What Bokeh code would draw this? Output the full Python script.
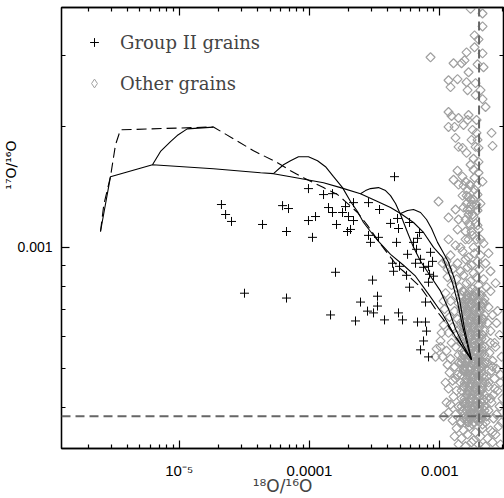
import math
from bokeh.plotting import figure
from bokeh.models import (FixedTicker, CustomJSTickFormatter, LogAxis, Span, Title,
                          Legend, LegendItem, Range1d)
from bokeh.embed import file_html
from bokeh.resources import INLINE

# ---------------- axis ranges / ticks ----------------
x_lo, x_hi = 1.25e-6, 3.08e-3
y_lo, y_hi = 3.16e-4, 3.95e-3

x_major_ticks = [1e-5, 1e-4, 1e-3]
x_major_labels = ["10\u207b\u2075", "0.0001", "0.001"]
x_minor_ticks = [2e-6, 3e-6, 4e-6, 5e-6, 6e-6, 7e-6, 8e-6, 9e-6,
                 2e-5, 3e-5, 4e-5, 5e-5, 6e-5, 7e-5, 8e-5, 9e-5,
                 2e-4, 3e-4, 4e-4, 5e-4, 6e-4, 7e-4, 8e-4, 9e-4,
                 2e-3, 3e-3]
y_major_ticks = [1e-3]
y_major_labels = ["0.001"]
y_minor_ticks = [4e-4, 5e-4, 6e-4, 7e-4, 8e-4, 9e-4, 2e-3, 3e-3]

# solar reference values
solar_18O = 2.0e-3
solar_17O = 3.8e-4

# ---------------- model curves (18O/16O, 17O/16O) ----------------
track_main_x = [2.49e-6, 2.97e-6, 6.24e-6, 1.83e-5, 4.21e-5, 5.29e-5, 7.15e-5, 1.281e-4,
                1.730e-4, 2.462e-4, 3.325e-4, 4.184e-4, 4.993e-4, 6.283e-4, 7.498e-4,
                8.948e-4, 1.049e-3, 1.126e-3, 1.252e-3, 1.367e-3, 1.494e-3, 1.632e-3, 1.751e-3]
track_main_y = [1.095e-3, 1.499e-3, 1.605e-3, 1.569e-3, 1.533e-3, 1.525e-3, 1.499e-3, 1.448e-3,
                1.408e-3, 1.360e-3, 1.300e-3, 1.256e-3, 1.214e-3, 1.153e-3, 1.089e-3,
                1.000e-3, 0.9446e-3, 0.8922e-3, 0.8143e-3, 0.731e-3, 0.6373e-3, 0.5689e-3, 0.5253e-3]

track_b0_x = [6.24e-6, 7.19e-6, 8.58e-6, 9.65e-6, 1.152e-5, 1.83e-5]
track_b0_y = [1.605e-3, 1.732e-3, 1.833e-3, 1.897e-3, 1.971e-3, 1.991e-3]

track_b1_x = [5.29e-5, 6.31e-5, 7.15e-5, 8.23e-5, 9.82e-5, 1.152e-4, 1.327e-4, 1.528e-4,
              1.792e-4, 2.064e-4, 2.335e-4, 2.597e-4, 2.938e-4, 3.384e-4, 4.184e-4,
              5.265e-4, 6.509e-4, 8.191e-4, 1.049e-3, 1.320e-3, 1.751e-3]
track_b1_y = [1.525e-3, 1.605e-3, 1.642e-3, 1.680e-3, 1.680e-3, 1.642e-3, 1.587e-3, 1.499e-3,
              1.408e-3, 1.300e-3, 1.228e-3, 1.153e-3, 1.095e-3, 1.035e-3, 0.9609e-3,
              0.9025e-3, 0.8477e-3, 0.7649e-3, 0.6826e-3, 0.5986e-3, 0.5253e-3]

track_b2_x = [2.462e-4, 2.691e-4, 2.938e-4, 3.384e-4, 3.831e-4, 4.184e-4, 4.571e-4, 4.993e-4,
              5.652e-4, 6.283e-4, 7.111e-4, 8.485e-4, 1.0125e-3, 1.166e-3, 1.320e-3, 1.520e-3, 1.751e-3]
track_b2_y = [1.360e-3, 1.384e-3, 1.400e-3, 1.408e-3, 1.384e-3, 1.345e-3, 1.285e-3, 1.207e-3,
              1.089e-3, 1.000e-3, 0.9233e-3, 0.8477e-3, 0.7781e-3, 0.7024e-3, 0.6266e-3, 0.5689e-3, 0.5253e-3]

track_b3_x = [4.993e-4, 5.652e-4, 6.283e-4, 7.111e-4, 7.906e-4, 8.637e-4, 9.604e-4, 1.049e-3,
              1.166e-3, 1.297e-3, 1.416e-3, 1.547e-3, 1.751e-3]
track_b3_y = [1.214e-3, 1.235e-3, 1.242e-3, 1.221e-3, 1.173e-3, 1.114e-3, 1.029e-3, 0.9775e-3,
              0.918e-3, 0.8333e-3, 0.7434e-3, 0.6266e-3, 0.5253e-3]

envelope_x = [2.49e-6, 2.64e-6, 2.97e-6, 3.245e-6, 3.54e-6, 1.83e-5, 3.72e-5, 5.68e-5, 7.15e-5,
              8.99e-5, 1.281e-4, 1.640e-4, 1.889e-4, 2.335e-4, 2.787e-4, 3.384e-4, 3.968e-4,
              4.735e-4, 5.265e-4, 7.111e-4, 8.047e-4, 9.604e-4, 1.146e-3, 1.441e-3, 1.751e-3]
envelope_y = [1.095e-3, 1.278e-3, 1.499e-3, 1.799e-3, 1.960e-3, 1.993e-3, 1.739e-3, 1.624e-3, 1.551e-3,
              1.490e-3, 1.408e-3, 1.353e-3, 1.300e-3, 1.221e-3, 1.134e-3, 1.035e-3, 0.9664e-3,
              0.8974e-3, 0.872e-3, 0.796e-3, 0.7519e-3, 0.6905e-3, 0.641e-3, 0.5752e-3, 0.5253e-3]

# ---------------- grains (18O/16O, 17O/16O) ----------------
group_ii = [
    (4.49e-4, 1.499e-3), (2.11e-5, 1.278e-3), (2.27e-5, 1.207e-3), (2.52e-5, 1.160e-3),
    (4.36e-5, 1.140e-3), (6.21e-5, 1.270e-3), (6.90e-5, 1.249e-3), (6.66e-5, 1.095e-3),
    (9.82e-5, 1.400e-3), (1.281e-4, 1.353e-3), (1.501e-4, 1.360e-3), (1.112e-4, 1.193e-3),
    (9.82e-5, 1.166e-3), (1.054e-4, 1.059e-3), (1.399e-4, 1.256e-3), (1.501e-4, 1.221e-3),
    (1.792e-4, 1.221e-3), (1.889e-4, 1.263e-3), (2.176e-4, 1.292e-3), (1.992e-4, 1.193e-3),
    (2.176e-4, 1.166e-3), (1.611e-4, 1.140e-3), (1.957e-4, 1.095e-3), (2.064e-4, 1.108e-3),
    (2.836e-4, 1.292e-3), (3.445e-4, 1.242e-3), (2.836e-4, 1.071e-3), (2.938e-4, 1.029e-3),
    (3.384e-4, 1.059e-3), (4.184e-4, 1.147e-3), (4.735e-4, 1.180e-3), (4.819e-4, 1.114e-3),
    (5.855e-4, 1.153e-3), (6.986e-4, 1.089e-3), (6.743e-4, 1.053e-3), (4.652e-4, 1.029e-3),
    (6.283e-4, 1.029e-3), (5.652e-4, 0.961e-3), (6.625e-4, 0.989e-3), (7.111e-4, 0.934e-3),
    (8.485e-4, 0.972e-3), (4.335e-4, 0.913e-3), (4.906e-4, 0.897e-3), (4.413e-4, 0.872e-3),
    (6.509e-4, 0.913e-3), (7.498e-4, 0.892e-3), (8.191e-4, 0.897e-3), (8.790e-4, 0.923e-3),
    (8.337e-4, 0.857e-3), (8.948e-4, 0.848e-3), (5.553e-4, 0.852e-3), (5.855e-4, 0.796e-3),
    (1.583e-4, 0.867e-3), (3.045e-4, 0.829e-3), (3.17e-5, 0.769e-3), (6.66e-5, 0.748e-3),
    (3.325e-4, 0.756e-3), (2.462e-4, 0.731e-3), (3.325e-4, 0.7145e-3), (2.787e-4, 0.694e-3),
    (3.099e-4, 0.687e-3), (1.450e-4, 0.679e-3), (2.254e-4, 0.656e-3), (3.764e-4, 0.660e-3),
    (4.819e-4, 0.687e-3), (5.172e-4, 0.660e-3), (6.743e-4, 0.652e-3), (7.767e-4, 0.652e-3),
    (7.767e-4, 0.731e-3), (8.191e-4, 0.819e-3), (7.906e-4, 0.619e-3), (7.498e-4, 0.585e-3),
    (7.111e-4, 0.556e-3), (8.191e-4, 0.534e-3),
]

other_grains = [
    (1.721e-3, 3.92e-3), (2.127e-3, 3.817e-3), (2.127e-3, 3.544e-3), (1.847e-3, 3.367e-3),
    (1.982e-3, 3.291e-3), (1.847e-3, 3.145e-3), (1.603e-3, 3.055e-3), (2.127e-3, 3.038e-3),
    (8.485e-4, 2.970e-3), (1.274e-3, 2.870e-3), (1.468e-3, 2.870e-3), (1.548e-3, 2.919e-3),
    (1.947e-3, 2.853e-3), (2.165e-3, 2.806e-3), (1.661e-3, 2.726e-3), (1.166e-3, 2.604e-3),
    (1.367e-3, 2.620e-3), (1.208e-3, 2.503e-3), (1.603e-3, 2.575e-3), (1.880e-3, 2.561e-3),
    (1.632e-3, 2.460e-3), (1.880e-3, 2.391e-3), (2.127e-3, 2.337e-3), (2.243e-3, 2.234e-3),
    (1.166e-3, 2.171e-3), (1.230e-3, 2.122e-3), (1.392e-3, 2.098e-3), (1.661e-3, 2.134e-3),
    (1.632e-3, 2.074e-3), (1.166e-3, 1.993e-3), (1.297e-3, 1.993e-3), (1.520e-3, 2.016e-3),
    (1.783e-3, 1.960e-3), (1.913e-3, 1.926e-3), (2.494e-3, 1.926e-3), (2.538e-3, 1.788e-3),
    (1.947e-3, 1.851e-3), (1.880e-3, 1.778e-3), (1.320e-3, 1.872e-3), (1.392e-3, 1.778e-3),
    (1.494e-3, 1.768e-3), (1.603e-3, 1.718e-3), (1.814e-3, 1.661e-3), (1.982e-3, 1.632e-3),
    (1.367e-3, 1.551e-3), (1.494e-3, 1.499e-3), (1.274e-3, 1.473e-3), (1.392e-3, 1.432e-3),
    (1.575e-3, 1.457e-3), (2.127e-3, 1.457e-3), (1.814e-3, 1.560e-3), (9.773e-4, 1.300e-3),
    (1.632e-3, 1.392e-3), (1.661e-3, 1.337e-3), (1.814e-3, 1.315e-3), (1.947e-3, 1.353e-3),
    (1.320e-3, 1.242e-3), (1.520e-3, 1.256e-3), (1.166e-3, 1.186e-3), (1.392e-3, 1.173e-3),
    (1.661e-3, 1.207e-3), (1.814e-3, 1.193e-3), (1.947e-3, 1.235e-3), (1.367e-3, 1.108e-3),
    (1.575e-3, 1.095e-3), (1.661e-3, 1.047e-3), (1.166e-3, 1.047e-3), (1.442e-3, 1.000e-3),
    (1.814e-3, 1.000e-3),
    (1.847e-3, 1.490e-3), (1.913e-3, 1.424e-3), (1.751e-3, 1.278e-3), (1.880e-3, 1.147e-3),
    (1.982e-3, 1.108e-3), (1.721e-3, 1.134e-3), (1.913e-3, 1.047e-3), (1.783e-3, 1.071e-3),
    (1.603e-3, 1.285e-3), (1.721e-3, 1.424e-3), (1.982e-3, 1.533e-3), (1.494e-3, 1.345e-3),
    (1.721e-3, 1.605e-3), (2.053e-3, 1.285e-3), (2.053e-3, 1.047e-3), (1.913e-3, 2.074e-3),
    (2.053e-3, 2.460e-3), (1.982e-3, 1.768e-3), (1.751e-3, 1.851e-3),
    (1.691e-3, 1.432e-3), (1.603e-3, 1.345e-3), (1.721e-3, 1.315e-3), (1.632e-3, 1.242e-3),
    (1.783e-3, 1.207e-3), (1.661e-3, 1.147e-3), (1.751e-3, 1.095e-3), (1.575e-3, 1.047e-3),
    (1.847e-3, 1.392e-3), (1.721e-3, 1.242e-3), (1.913e-3, 1.278e-3), (1.575e-3, 1.173e-3),
    (1.947e-3, 1.134e-3), (1.520e-3, 1.424e-3), (1.320e-3, 1.011e-3), (2.165e-3, 1.023e-3),
    (1.208e-3, 0.9554e-3), (1.494e-3, 0.9775e-3), (1.661e-3, 0.9446e-3), (1.847e-3, 0.9664e-3),
    (2.053e-3, 0.9554e-3), (2.365e-3, 0.9664e-3),
    (1.126e-3, 0.9233e-3), (1.367e-3, 0.9129e-3), (1.575e-3, 0.9339e-3), (1.751e-3, 0.9025e-3),
    (1.947e-3, 0.9233e-3), (2.243e-3, 0.9129e-3),
    (1.252e-3, 0.8822e-3), (1.442e-3, 0.8722e-3), (1.632e-3, 0.8923e-3), (1.814e-3, 0.8623e-3),
    (2.017e-3, 0.8822e-3), (2.450e-3, 0.8722e-3),
    (1.146e-3, 0.8429e-3), (1.344e-3, 0.8333e-3), (1.520e-3, 0.8525e-3), (1.721e-3, 0.8239e-3),
    (1.913e-3, 0.8429e-3), (2.165e-3, 0.8333e-3),
    (1.230e-3, 0.8053e-3), (1.417e-3, 0.7962e-3), (1.603e-3, 0.8146e-3), (1.783e-3, 0.7872e-3),
    (1.982e-3, 0.8053e-3), (2.283e-3, 0.7962e-3), (2.677e-3, 0.8146e-3),
    (1.106e-3, 0.7694e-3), (1.320e-3, 0.7607e-3), (1.494e-3, 0.7783e-3), (1.691e-3, 0.7521e-3),
    (1.880e-3, 0.7694e-3), (2.090e-3, 0.7607e-3), (2.450e-3, 0.7783e-3),
    (1.208e-3, 0.7352e-3), (1.392e-3, 0.7268e-3), (1.575e-3, 0.7436e-3), (1.751e-3, 0.7186e-3),
    (1.947e-3, 0.7352e-3), (2.204e-3, 0.7268e-3),
    (1.087e-3, 0.7024e-3), (1.297e-3, 0.6944e-3), (1.468e-3, 0.7104e-3), (1.632e-3, 0.6866e-3),
    (1.814e-3, 0.7024e-3), (2.053e-3, 0.6944e-3), (2.365e-3, 0.7104e-3), (2.773e-3, 0.6944e-3),
    (1.187e-3, 0.6711e-3), (1.367e-3, 0.6635e-3), (1.548e-3, 0.6788e-3), (1.721e-3, 0.6560e-3),
    (1.913e-3, 0.6711e-3), (2.165e-3, 0.6635e-3), (2.538e-3, 0.6788e-3),
    (1.068e-3, 0.6412e-3), (1.252e-3, 0.6339e-3), (1.442e-3, 0.6485e-3), (1.603e-3, 0.6267e-3),
    (1.783e-3, 0.6412e-3), (2.017e-3, 0.6339e-3), (2.324e-3, 0.6485e-3),
    (1.166e-3, 0.6126e-3), (1.344e-3, 0.6057e-3), (1.520e-3, 0.6196e-3), (1.691e-3, 0.5988e-3),
    (1.880e-3, 0.6126e-3), (2.127e-3, 0.6057e-3), (2.450e-3, 0.6196e-3), (2.873e-3, 0.6057e-3),
    (1.0125e-3, 0.5853e-3), (1.230e-3, 0.5787e-3), (1.417e-3, 0.5920e-3), (1.603e-3, 0.5721e-3),
    (1.783e-3, 0.5853e-3), (1.982e-3, 0.5787e-3), (2.243e-3, 0.5920e-3), (2.630e-3, 0.5787e-3),
    (0.9434e-3, 0.5592e-3), (1.126e-3, 0.5529e-3), (1.320e-3, 0.5657e-3), (1.494e-3, 0.5466e-3),
    (1.661e-3, 0.5592e-3), (1.847e-3, 0.5529e-3), (2.090e-3, 0.5657e-3), (2.407e-3, 0.5466e-3),
    (1.049e-3, 0.5343e-3), (1.208e-3, 0.5283e-3), (1.392e-3, 0.5404e-3), (1.575e-3, 0.5223e-3),
    (1.751e-3, 0.5343e-3), (1.947e-3, 0.5283e-3), (2.204e-3, 0.5404e-3), (2.538e-3, 0.5223e-3),
    (2.976e-3, 0.5343e-3),
    (1.146e-3, 0.5105e-3), (1.297e-3, 0.5047e-3), (1.468e-3, 0.5164e-3), (1.632e-3, 0.4990e-3),
    (1.814e-3, 0.5105e-3), (2.053e-3, 0.5047e-3), (2.324e-3, 0.5164e-3), (2.724e-3, 0.4990e-3),
    (1.187e-3, 0.4878e-3), (1.367e-3, 0.4822e-3), (1.548e-3, 0.4934e-3), (1.721e-3, 0.4768e-3),
    (1.913e-3, 0.4878e-3), (2.165e-3, 0.4822e-3), (2.494e-3, 0.4934e-3), (2.924e-3, 0.4822e-3),
    (1.252e-3, 0.4660e-3), (1.442e-3, 0.4608e-3), (1.603e-3, 0.4714e-3), (1.783e-3, 0.4555e-3),
    (1.982e-3, 0.4660e-3), (2.243e-3, 0.4608e-3), (2.630e-3, 0.4714e-3),
    (1.166e-3, 0.4453e-3), (1.344e-3, 0.4402e-3), (1.520e-3, 0.4504e-3), (1.691e-3, 0.4352e-3),
    (1.880e-3, 0.4453e-3), (2.090e-3, 0.4402e-3), (2.365e-3, 0.4504e-3), (2.773e-3, 0.4402e-3),
    (1.274e-3, 0.4254e-3), (1.468e-3, 0.4206e-3), (1.632e-3, 0.4303e-3), (1.814e-3, 0.4158e-3),
    (2.017e-3, 0.4254e-3), (2.283e-3, 0.4206e-3), (2.584e-3, 0.4303e-3), (3.029e-3, 0.4206e-3),
    (1.208e-3, 0.4065e-3), (1.392e-3, 0.4019e-3), (1.575e-3, 0.4111e-3), (1.751e-3, 0.3973e-3),
    (1.947e-3, 0.4065e-3), (2.204e-3, 0.4019e-3), (2.494e-3, 0.4111e-3), (2.873e-3, 0.4019e-3),
    (1.166e-3, 0.3884e-3), (1.320e-3, 0.3840e-3), (1.494e-3, 0.3928e-3), (1.661e-3, 0.3796e-3),
    (1.847e-3, 0.3884e-3), (2.053e-3, 0.3840e-3), (2.365e-3, 0.3928e-3), (2.724e-3, 0.3840e-3),
    (1.252e-3, 0.3711e-3), (1.442e-3, 0.3669e-3), (1.603e-3, 0.3753e-3), (1.783e-3, 0.3627e-3),
    (1.982e-3, 0.3711e-3), (2.243e-3, 0.3669e-3), (2.584e-3, 0.3753e-3), (2.976e-3, 0.3669e-3),
    (1.344e-3, 0.3545e-3), (1.520e-3, 0.3505e-3), (1.691e-3, 0.3586e-3), (1.880e-3, 0.3465e-3),
    (2.127e-3, 0.3545e-3), (2.450e-3, 0.3505e-3), (2.822e-3, 0.3586e-3),
    (1.297e-3, 0.3387e-3), (1.468e-3, 0.3349e-3), (1.632e-3, 0.3426e-3), (1.814e-3, 0.3311e-3),
    (2.053e-3, 0.3387e-3), (2.324e-3, 0.3349e-3), (2.677e-3, 0.3426e-3),
    (1.392e-3, 0.3236e-3), (1.575e-3, 0.3200e-3), (1.751e-3, 0.3274e-3), (1.982e-3, 0.3236e-3),
    (2.243e-3, 0.3200e-3), (2.538e-3, 0.3274e-3), (2.924e-3, 0.3236e-3),
    (1.603e-3, 0.7607e-3), (1.847e-3, 0.7521e-3), (1.494e-3, 0.7268e-3), (1.691e-3, 0.7352e-3),
    (2.053e-3, 0.7186e-3), (1.575e-3, 0.7024e-3), (1.913e-3, 0.6866e-3), (1.751e-3, 0.6711e-3),
    (1.632e-3, 0.6560e-3), (2.017e-3, 0.6485e-3), (1.520e-3, 0.6339e-3), (1.847e-3, 0.6267e-3),
    (1.691e-3, 0.6126e-3), (1.982e-3, 0.5988e-3), (1.494e-3, 0.5920e-3), (1.880e-3, 0.5721e-3),
    (1.721e-3, 0.5592e-3), (1.575e-3, 0.5466e-3), (2.017e-3, 0.5404e-3), (1.661e-3, 0.5283e-3),
    (1.847e-3, 0.5164e-3), (2.165e-3, 0.5105e-3), (1.520e-3, 0.4990e-3), (1.947e-3, 0.4934e-3),
    (1.721e-3, 0.4822e-3), (2.283e-3, 0.4768e-3), (1.603e-3, 0.4608e-3), (1.880e-3, 0.4555e-3),
    (2.127e-3, 0.4453e-3), (1.691e-3, 0.4402e-3), (1.982e-3, 0.4303e-3), (1.751e-3, 0.4206e-3),
    (2.204e-3, 0.4158e-3), (1.548e-3, 0.4065e-3), (1.847e-3, 0.4019e-3), (2.053e-3, 0.3928e-3),
    (1.721e-3, 0.3884e-3), (2.283e-3, 0.3796e-3), (1.913e-3, 0.3753e-3), (1.661e-3, 0.3669e-3),
    (2.127e-3, 0.3627e-3), (2.450e-3, 0.4206e-3), (1.392e-3, 0.5164e-3), (1.320e-3, 0.4714e-3),
    (2.365e-3, 0.4608e-3), (2.630e-3, 0.4453e-3),
    (2.724e-3, 0.6485e-3), (2.677e-3, 0.5657e-3), (2.450e-3, 0.5787e-3), (2.538e-3, 0.5047e-3),
    (2.924e-3, 0.4608e-3), (2.538e-3, 0.3465e-3),
    (0.9269e-3, 0.5343e-3), (1.0125e-3, 0.5657e-3), (1.068e-3, 0.3796e-3), (1.049e-3, 0.9129e-3),
    (1.146e-3, 0.8822e-3), (1.068e-3, 0.7352e-3), (1.031e-3, 0.6126e-3), (1.106e-3, 0.4608e-3),
    (1.126e-3, 0.4111e-3),
    # densest core of the cloud
    (1.520e-3, 0.7783e-3), (1.691e-3, 0.7783e-3), (1.880e-3, 0.7783e-3), (2.090e-3, 0.7783e-3),
    (1.603e-3, 0.7436e-3), (1.783e-3, 0.7436e-3), (1.982e-3, 0.7436e-3), (2.204e-3, 0.7436e-3),
    (1.520e-3, 0.7104e-3), (1.691e-3, 0.7104e-3), (1.880e-3, 0.7104e-3), (2.090e-3, 0.7104e-3),
    (1.603e-3, 0.6788e-3), (1.783e-3, 0.6788e-3), (1.982e-3, 0.6788e-3), (2.204e-3, 0.6788e-3),
    (1.520e-3, 0.6485e-3), (1.691e-3, 0.6485e-3), (1.880e-3, 0.6485e-3), (2.090e-3, 0.6485e-3),
    (1.603e-3, 0.6196e-3), (1.783e-3, 0.6196e-3), (1.982e-3, 0.6196e-3), (2.204e-3, 0.6196e-3),
    (1.520e-3, 0.5920e-3), (1.691e-3, 0.5920e-3), (1.880e-3, 0.5920e-3), (2.090e-3, 0.5920e-3),
    (1.603e-3, 0.5657e-3), (1.783e-3, 0.5657e-3), (1.982e-3, 0.5657e-3), (2.204e-3, 0.5657e-3),
    (1.520e-3, 0.5404e-3), (1.691e-3, 0.5404e-3), (1.880e-3, 0.5404e-3), (2.090e-3, 0.5404e-3),
    (1.603e-3, 0.5164e-3), (1.783e-3, 0.5164e-3), (1.982e-3, 0.5164e-3), (2.204e-3, 0.5164e-3),
    (1.520e-3, 0.4934e-3), (1.691e-3, 0.4934e-3), (1.880e-3, 0.4934e-3), (2.090e-3, 0.4934e-3),
    (1.603e-3, 0.4714e-3), (1.783e-3, 0.4714e-3), (1.982e-3, 0.4714e-3), (2.204e-3, 0.4714e-3),
    (1.520e-3, 0.4504e-3), (1.691e-3, 0.4504e-3), (1.880e-3, 0.4504e-3), (2.090e-3, 0.4504e-3),
    (1.603e-3, 0.4303e-3), (1.783e-3, 0.4303e-3), (1.982e-3, 0.4303e-3), (2.204e-3, 0.4303e-3),
    (1.520e-3, 0.4111e-3), (1.691e-3, 0.4111e-3), (1.880e-3, 0.4111e-3), (2.090e-3, 0.4111e-3),
    (1.603e-3, 0.3928e-3), (1.783e-3, 0.3928e-3), (1.982e-3, 0.3928e-3), (2.204e-3, 0.3928e-3),
    (1.520e-3, 0.3753e-3), (1.691e-3, 0.3753e-3), (1.880e-3, 0.3753e-3), (2.090e-3, 0.3753e-3),
    (1.468e-3, 0.7607e-3), (1.632e-3, 0.7607e-3), (1.814e-3, 0.7607e-3), (2.017e-3, 0.7607e-3),
    (1.548e-3, 0.7268e-3), (1.721e-3, 0.7268e-3), (1.913e-3, 0.7268e-3), (2.127e-3, 0.7268e-3),
    (1.468e-3, 0.6944e-3), (1.632e-3, 0.6944e-3), (1.814e-3, 0.6944e-3), (2.017e-3, 0.6944e-3),
    (1.548e-3, 0.6635e-3), (1.721e-3, 0.6635e-3), (1.913e-3, 0.6635e-3), (2.127e-3, 0.6635e-3),
    (1.468e-3, 0.6339e-3), (1.632e-3, 0.6339e-3), (1.814e-3, 0.6339e-3), (2.017e-3, 0.6339e-3),
    (1.548e-3, 0.6057e-3), (1.721e-3, 0.6057e-3), (1.913e-3, 0.6057e-3), (2.127e-3, 0.6057e-3),
    (1.468e-3, 0.5787e-3), (1.632e-3, 0.5787e-3), (1.814e-3, 0.5787e-3), (2.017e-3, 0.5787e-3),
    (1.548e-3, 0.5529e-3), (1.721e-3, 0.5529e-3), (1.913e-3, 0.5529e-3), (2.127e-3, 0.5529e-3),
    (1.468e-3, 0.5283e-3), (1.632e-3, 0.5283e-3), (1.814e-3, 0.5283e-3), (2.017e-3, 0.5283e-3),
    (1.548e-3, 0.5047e-3), (1.721e-3, 0.5047e-3), (1.913e-3, 0.5047e-3), (2.127e-3, 0.5047e-3),
    (1.468e-3, 0.4822e-3), (1.632e-3, 0.4822e-3), (1.814e-3, 0.4822e-3), (2.017e-3, 0.4822e-3),
    (1.548e-3, 0.4608e-3), (1.721e-3, 0.4608e-3), (1.913e-3, 0.4608e-3), (2.127e-3, 0.4608e-3),
    (1.468e-3, 0.4402e-3), (1.632e-3, 0.4402e-3), (1.814e-3, 0.4402e-3), (2.017e-3, 0.4402e-3),
    (1.548e-3, 0.4206e-3), (1.721e-3, 0.4206e-3), (1.913e-3, 0.4206e-3), (2.127e-3, 0.4206e-3),
    (1.468e-3, 0.4019e-3), (1.632e-3, 0.4019e-3), (1.814e-3, 0.4019e-3), (2.017e-3, 0.4019e-3),
    (1.548e-3, 0.3840e-3), (1.721e-3, 0.3840e-3), (1.913e-3, 0.3840e-3), (2.127e-3, 0.3840e-3),
    (1.468e-3, 0.3669e-3), (1.632e-3, 0.3669e-3), (1.814e-3, 0.3669e-3), (2.017e-3, 0.3669e-3),
]

g2_x = [p[0] for p in group_ii]
g2_y = [p[1] for p in group_ii]
oth_x = [p[0] for p in other_grains]
oth_y = [p[1] for p in other_grains]

# ---------------- figure ----------------
p = figure(width=504, height=498, x_axis_type="log", y_axis_type="log",
           x_range=Range1d(x_lo, x_hi), y_range=Range1d(y_lo, y_hi),
           output_backend="svg", toolbar_location=None,
           min_border_left=61, min_border_right=1, min_border_top=7, min_border_bottom=48)
p.grid.visible = False
p.outline_line_color = "black"
p.outline_line_width = 1.3
p.background_fill_color = "white"
p.border_fill_color = "white"

GREY = "#a0a0a0"
r_other = p.scatter(oth_x, oth_y, marker="square", size=6.4, angle=math.pi / 4,
                    fill_color=None, line_color=GREY, line_width=1.2)
# legend key for the open-diamond symbol (a single undefined point, never drawn in the frame)
r_other_key = p.scatter([float("nan")], [float("nan")], marker="diamond", size=9,
                        fill_color=None, line_color=GREY, line_width=1)

for xs, ys in [(track_main_x, track_main_y), (track_b0_x, track_b0_y), (track_b1_x, track_b1_y),
               (track_b2_x, track_b2_y), (track_b3_x, track_b3_y)]:
    p.line(xs, ys, line_color="black", line_width=1.1)
p.line(envelope_x, envelope_y, line_color="black", line_width=1.1, line_dash="10 5")

r_g2 = p.scatter(g2_x, g2_y, marker="cross", size=9, line_color="black", line_width=1)

p.add_layout(Span(location=solar_18O, dimension="height", line_color="#666666",
                  line_width=2, line_dash="9 5"))
p.add_layout(Span(location=solar_17O, dimension="width", line_color="#666666",
                  line_width=2, line_dash="9 5"))


def fmt(vals, texts):
    return CustomJSTickFormatter(args=dict(vals=vals, texts=texts), code="""
        for (let i = 0; i < vals.length; i++) {
            if (Math.abs(Math.log10(tick) - Math.log10(vals[i])) < 1e-6) { return texts[i]; }
        }
        return "";
    """)


def style(ax, major, minor, labels=None, size="15px"):
    ax.ticker = FixedTicker(ticks=major, minor_ticks=minor)
    ax.major_tick_in = 8
    ax.major_tick_out = 0
    ax.minor_tick_in = 4
    ax.minor_tick_out = 0
    ax.axis_line_color = "black"
    ax.axis_line_width = 1.3
    ax.major_tick_line_color = "black"
    ax.minor_tick_line_color = "black"
    ax.major_tick_line_width = 1.2
    ax.minor_tick_line_width = 1.2
    if labels is None:
        ax.formatter = CustomJSTickFormatter(code="return '';")
        ax.major_label_text_font_size = "0px"
        ax.major_label_standoff = 0
    else:
        ax.formatter = fmt(major, labels)
        ax.major_label_text_font = "Liberation Sans"
        ax.major_label_text_font_size = size
        ax.major_label_text_color = "black"


bx = p.below[0]
ly = p.left[0]
style(bx, x_major_ticks, x_minor_ticks, x_major_labels, "15px")
style(ly, y_major_ticks, y_minor_ticks, y_major_labels, "14px")
bx.major_label_standoff = 13
ly.major_label_standoff = 9
bx.axis_label = "\u00b9\u2078O/\u00b9\u2076O"
bx.axis_label_text_font = "DejaVu Sans"
bx.axis_label_text_font_size = "17px"
bx.axis_label_text_font_style = "normal"
bx.axis_label_standoff = -6

top_ax = LogAxis()
style(top_ax, x_major_ticks, x_minor_ticks)
p.add_layout(top_ax, "above")
right_ax = LogAxis()
style(right_ax, y_major_ticks, y_minor_ticks)
p.add_layout(right_ax, "right")

# y-axis title, beside the axis and above its centre as in the original
y_title = Title(text="\u00b9\u2077O/\u00b9\u2076O", align="right", offset=133,
                vertical_align="bottom", standoff=-8,
                text_font="DejaVu Sans", text_font_size="14px",
                text_font_style="normal", text_color="black")
p.add_layout(y_title, "left")

legend = Legend(items=[LegendItem(label="Group II grains", renderers=[r_g2]),
                       LegendItem(label="Other grains", renderers=[r_other_key])],
                location="top_left", margin=22, spacing=15,
                glyph_width=22, glyph_height=26, label_standoff=15,
                label_text_font="DejaVu Serif", label_text_font_size="18px",
                border_line_color=None, background_fill_alpha=0)
p.add_layout(legend)

open("out.html", "w").write(file_html(p, INLINE))
